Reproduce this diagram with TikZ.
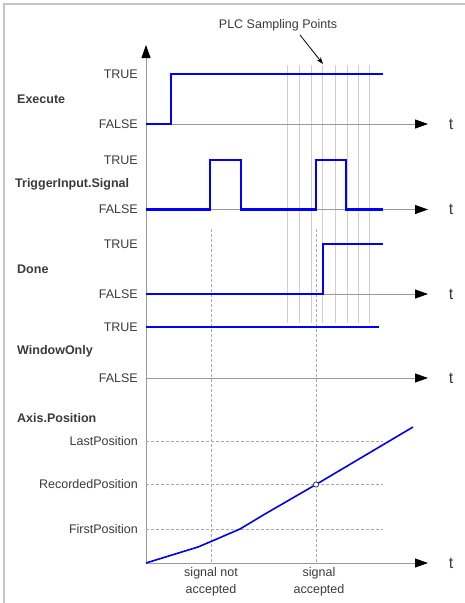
\documentclass[tikz,border=0pt]{standalone}
\usepackage{fontspec}
\setmainfont{Liberation Sans}
\usetikzlibrary{arrows.meta}
\definecolor{sig}{HTML}{0000FF}
\definecolor{txt}{HTML}{3A3A3A}
\definecolor{axisgray}{HTML}{9A9A9A}
\definecolor{samp}{HTML}{CFCFCF}
\definecolor{framegray}{HTML}{C4C4C4}
\definecolor{dashgray}{HTML}{A8A8A8}
\begin{document}
\begin{tikzpicture}[x=1pt,y=-1pt,
  lbl/.style={font=\fontsize{12.5}{17}\selectfont, text=txt, inner sep=0pt},
  tlbl/.style={font=\fontsize{16}{18}\selectfont, text=txt, inner sep=0pt, anchor=center},
  lvl/.style={lbl, anchor=east},
  signame/.style={font=\fontsize{12.5}{15}\selectfont\bfseries, text=txt, inner sep=0pt, anchor=west},
  taxis/.style={draw=axisgray, line width=0.9pt, -{Triangle[length=13pt,width=9pt,color=black]}},
  samplingline/.style={draw=samp, line width=1pt},
  guide/.style={draw=dashgray, line width=0.8pt, dash pattern=on 3pt off 2pt},
  sigline/.style={draw=sig, line width=2.2pt, line join=miter},
]
\useasboundingbox (0,0) rectangle (465,603);
% frame
\draw[framegray, line width=1.5pt] (4,603) -- (4,4) -- (465,4);

% sampling lines
\foreach \x in {287.3,299.3,311.7,322.7,335,347.3,358.3,369.7}
  \draw[samplingline] (\x,65) -- (\x,323);

% guide lines (vertical)
\coordinate (g1t) at (211,229); \coordinate (g1b) at (211,563);
\coordinate (g2t) at (316,229); \coordinate (g2b) at (316,563);
\draw[guide] (g1t) -- (g1b);
\draw[guide] (g2t) -- (g2b);

% horizontal guide lines
\coordinate (lp0) at (146,441); \coordinate (lp1) at (383,441);
\coordinate (rp0) at (146,484.5); \coordinate (rp1) at (383,484.5);
\coordinate (fp0) at (146,529); \coordinate (fp1) at (383,529);
\draw[guide] (lp0) -- (lp1);
\draw[guide] (rp0) -- (rp1);
\draw[guide] (fp0) -- (fp1);

% axes
\coordinate (origin) at (146,563);
\coordinate (ytop) at (146,45);
\draw[taxis] (origin) -- (ytop);
\foreach \n/\y in {ex/124,tr/209.5,dn/294,wo/378,ap/563}{
  \coordinate (\n0) at (146,\y);
  \coordinate (\n1) at (428,\y);
  \draw[taxis] (\n0) -- (\n1);
  \node[tlbl] (t\n) at (451,\y) {t};
}

% level labels
\node[lvl] (exT) at (138,74) {TRUE};
\node[lvl] (exF) at (138,124) {FALSE};
\node[lvl] (trT) at (138,160) {TRUE};
\node[lvl] (trF) at (138,209.5) {FALSE};
\node[lvl] (dnT) at (138,244) {TRUE};
\node[lvl] (dnF) at (138,294) {FALSE};
\node[lvl] (woT) at (138,327) {TRUE};
\node[lvl] (woF) at (138,378) {FALSE};
\node[lvl] (lpL) at (138,441) {LastPosition};
\node[lvl] (rpL) at (138,484.5) {RecordedPosition};
\node[lvl] (fpL) at (138,529) {FirstPosition};

% signal names
\node[signame] (nEx) at (17,99) {Execute};
\node[signame] (nTr) at (15,184) {TriggerInput.Signal};
\node[signame] (nDn) at (17,269) {Done};
\node[signame] (nWo) at (17,351) {WindowOnly};
\node[signame] (nAp) at (17,418) {Axis.Position};

% signals
\draw[sigline] (146,124) -- (171,124) -- (171,74) -- (383,74);
\draw[sigline] (146,209.5) -- (210,209.5) -- (210,160) -- (241,160) -- (241,209.5)
  -- (316,209.5) -- (316,160) -- (346,160) -- (346,209.5) -- (383,209.5);
\draw[sigline] (146,294) -- (323,294) -- (323,244) -- (383,244);
\draw[draw=sig, line width=2.8pt] (146,327) -- (379,327);

% position curve
\coordinate (rec) at (316,484.5);
\draw[draw=sig, line width=1.6pt, line join=round]
  (146,563) -- (198,547) -- (211,541.5) -- (240,529) -- (265,514) -- (rec) -- (413,427);
\draw[draw=txt, fill=white, line width=0.8pt] (rec) circle (2.6);

% bottom labels
\node[lbl, align=center, anchor=north] (na) at (211,567) {signal not\\accepted};
\node[lbl, align=center, anchor=north] (ac) at (319,567) {signal\\accepted};

% PLC Sampling Points
\node[lbl, anchor=center] (plc) at (278,25) {PLC Sampling Points};
\coordinate (sp) at (323,64);
\draw[draw=black, line width=0.8pt, -{Stealth[length=7pt,width=5pt]}] (300,35) -- (sp);
\end{tikzpicture}
\end{document}
